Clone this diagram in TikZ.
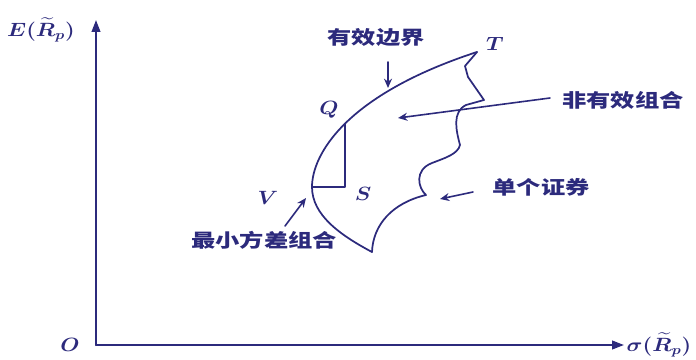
\documentclass[tikz,border=0pt]{standalone}
\usepackage{fontspec}
\usepackage{amsmath}
\usetikzlibrary{arrows.meta}
\newfontfamily\cjk{Noto Sans CJK SC}
\definecolor{navy}{RGB}{44,42,124}
\newcommand{\widen}[1]{\scalebox{1.3}[1]{#1}}
\newcommand{\mwiden}[1]{\scalebox{1.15}[1]{#1}}
\begin{document}
\begin{tikzpicture}[x=0.75pt,y=-0.75pt,line cap=round,line join=round,
  axisline/.style={navy,line width=1.5pt,-{Triangle[length=9pt,width=6.5pt]}},
  bound/.style={navy,line width=1.3pt},
  thin/.style={navy,line width=1.1pt},
  pointer/.style={navy,line width=1.2pt,-{Stealth[length=7pt,width=6pt]}},
  cn/.style={text=navy,font=\fontsize{14}{16}\selectfont\cjk\bfseries,inner sep=0pt},
  mlab/.style={text=navy,font=\fontsize{14}{16}\selectfont\boldmath,inner sep=0pt}]
\useasboundingbox (0,0) rectangle (696,360);
% axes
\coordinate (O0) at (96,345);
\coordinate (Ytop) at (96,20);
\coordinate (Xend) at (624,345);
\draw[axisline] (O0) -- (Ytop);
\draw[axisline] (O0) -- (Xend);
\node[mlab] (Ey) at (41,30) {\mwiden{$E(\widetilde{R}_{p})$}};
\node[mlab] (sx) at (659,345) {\mwiden{$\sigma(\widetilde{R}_{p})$}};
\node[mlab] (Olab) at (70,345) {\mwiden{$O$}};
% key points
\coordinate (B) at (372,252);
\coordinate (V) at (312,187);
\coordinate (T) at (477,52);
% frontier (left boundary)
\draw[bound] (B) .. controls (340,235) and (312,215) .. (V)
  .. controls (312,155) and (345,95) .. coordinate[pos=0.5] (Qp) (T);
% right boundary
\draw[bound] (B) .. controls (373,225) and (392,203) .. (426,195)
  .. controls (418,188) and (414,170) .. (432,163)
  .. controls (445,158) and (458,154) .. (460,145)
  .. controls (456,130) and (452,112) .. (466,105)
  -- (484,100) -- (468,77) -- (465,66) -- (T);
% right angle Q-S-V
\coordinate (Sp) at (Qp |- V);
\draw[thin] (Qp) -- (Sp) -- (V);
% point labels
\node[mlab] (Tlab) at (495,44) {\mwiden{$T$}};
\node[mlab] (Qlab) at (329,110) {\mwiden{$Q$}};
\node[mlab] (Slab) at (363,194) {\mwiden{$S$}};
\node[mlab] (Vlab) at (268,198) {\mwiden{$V$}};
% Chinese labels and pointers
\node[cn] (eff) at (376,37) {\widen{有效边界}};
\coordinate (effA) at (388,62);
\coordinate (effB) at (388,88);
\draw[pointer] (effA) -- (effB);
\node[cn] (ineff) at (623,100) {\widen{非有效组合}};
\coordinate (inA) at (550,98);
\coordinate (inB) at (398,118);
\draw[pointer] (inA) -- (inB);
\node[cn] (single) at (541,187) {\widen{单个证券}};
\coordinate (siA) at (473,192);
\coordinate (siB) at (440,199);
\draw[pointer] (siA) -- (siB);
\node[cn] (minv) at (264,240) {\widen{最小方差组合}};
\coordinate (mvA) at (285,226);
\coordinate (mvB) at (306,198);
\draw[pointer] (mvA) -- (mvB);
\end{tikzpicture}
\end{document}
